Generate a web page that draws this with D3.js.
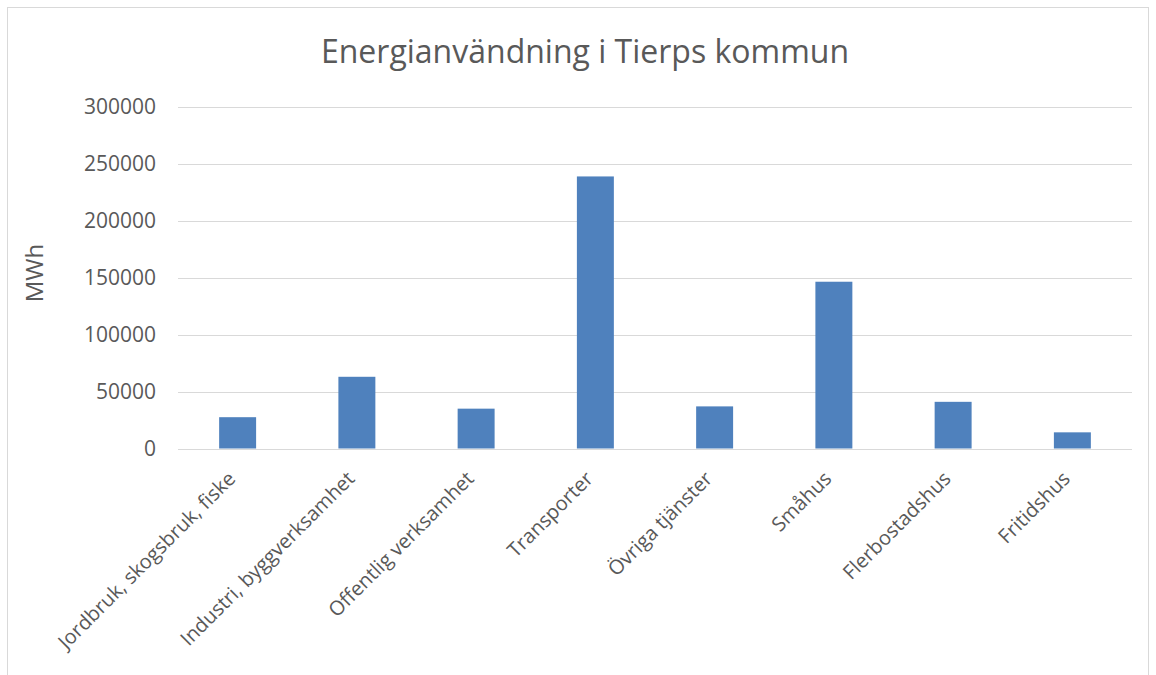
<!DOCTYPE html>
<html><head><meta charset="utf-8">
<script src="https://cdn.jsdelivr.net/npm/d3@7"></script>
<style>body{margin:0;background:#fff}svg text{font-family:"Open Sans",sans-serif;fill:#595959}</style>
</head><body>
<svg id="c" width="1156" height="675"></svg>
<script>
const categories = ["Jordbruk, skogsbruk, fiske","Industri, byggverksamhet","Offentlig verksamhet","Transporter","Övriga tjänster","Småhus","Flerbostadshus","Fritidshus"];
const values = [27500, 63000, 35000, 239000, 37000, 146500, 41000, 14200];
const yTicks = [0, 50000, 100000, 150000, 200000, 250000, 300000];
const title = "Energianvändning i Tierps kommun";
const yTitle = "MWh";

const svg = d3.select("#c");
svg.append("rect").attr("x",7.5).attr("y",7.5).attr("width",1141).attr("height",700)
  .attr("fill","#fff").attr("stroke","#d9d9d9");

const pLeft = 178, pRight = 1132, pTop = 107, pBottom = 448.5;
const x = d3.scaleBand().domain(categories).range([pLeft,pRight]).paddingInner(0.69).paddingOuter(0.345);
const y = d3.scaleLinear().domain([0,300000]).range([pBottom,pTop]);

svg.append("g").selectAll("line").data(yTicks).join("line")
  .attr("x1",pLeft).attr("x2",pRight).attr("y1",d=>Math.round(y(d))+0.5).attr("y2",d=>Math.round(y(d))+0.5)
  .attr("stroke","#d9d9d9").attr("stroke-width",1);

svg.append("g").selectAll("text").data(yTicks).join("text")
  .attr("x",156).attr("y",d=>y(d)).attr("dy","0.35em").attr("text-anchor","end")
  .attr("font-size",21).text(d=>d);

svg.append("g").selectAll("rect").data(values).join("rect")
  .attr("x",(d,i)=>x(categories[i])).attr("width",x.bandwidth())
  .attr("y",d=>y(d)).attr("height",d=>pBottom-y(d)).attr("fill","#4f81bd");

svg.append("g").selectAll("text").data(categories).join("text")
  .attr("transform",d=>`translate(${x(d)+x.bandwidth()/2-6},475) rotate(-45)`)
  .attr("text-anchor","end").attr("dy","0.35em").attr("font-size",20).text(d=>d);

svg.append("text").attr("x",585).attr("y",52).attr("dy","0.35em").attr("text-anchor","middle")
  .attr("font-size",32).text(title);

svg.append("text").attr("transform","translate(35,273) rotate(-90)").attr("text-anchor","middle")
  .attr("dy","0.35em").attr("font-size",24).text(yTitle);
</script>
</body></html>
